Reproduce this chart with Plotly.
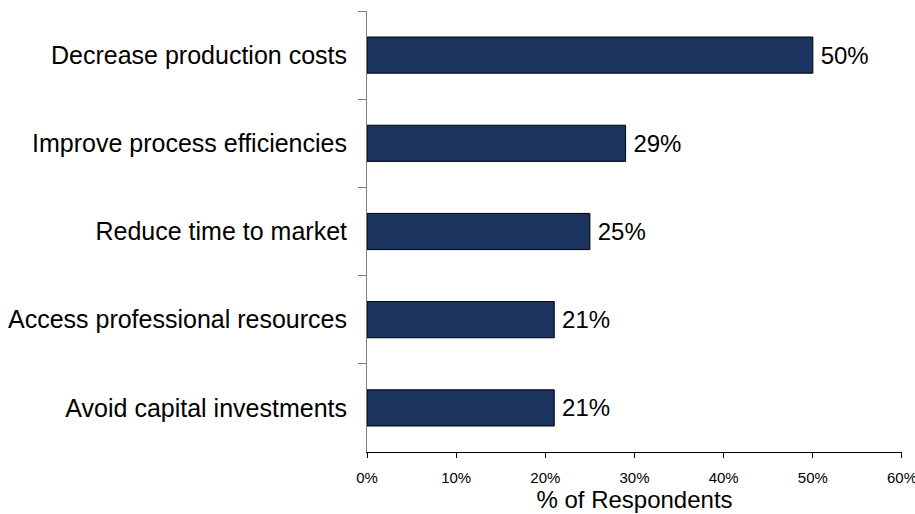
import plotly.graph_objects as go

categories = [
    "Decrease production costs",
    "Improve process efficiencies",
    "Reduce time to market",
    "Access professional resources",
    "Avoid capital investments",
]
values = [50, 29, 25, 21, 21]
x_ticks = [0, 10, 20, 30, 40, 50, 60]

BAR_COLOR = "#1B345F"
FONT = "Liberation Sans, Arial, sans-serif"

fig = go.Figure(
    go.Bar(
        x=values,
        y=categories,
        orientation="h",
        marker=dict(color=BAR_COLOR, line=dict(color="black", width=1)),
        text=[f"\u2009{v}%" for v in values],
        textposition="outside",
        textfont=dict(size=24, color="black", family=FONT),
        cliponaxis=False,
        hoverinfo="skip",
    )
)

fig.update_layout(
    width=915,
    height=514,
    margin=dict(l=367, r=13, t=11, b=62, autoexpand=False),
    plot_bgcolor="white",
    paper_bgcolor="white",
    bargap=0.59,
    showlegend=False,
    font=dict(family=FONT, color="black"),
)

fig.update_xaxes(
    range=[0, 60.001],
    tickvals=x_ticks,
    ticktext=[f"{t}%" for t in x_ticks],
    tickfont=dict(size=15),
    ticks="outside",
    ticklen=5,
    tickcolor="black",
    showline=True,
    linecolor="black",
    linewidth=1,
    showgrid=False,
    zeroline=False,
    automargin=False,
    ticklabeloverflow="allow",
    ticklabelstandoff=7,
    title=dict(text="% of Respondents", font=dict(size=24), standoff=0),
)

fig.update_yaxes(
    autorange="reversed",
    tickson="boundaries",
    ticks="outside",
    ticklen=8,
    tickcolor="#808080",
    tickfont=dict(size=25),
    showline=True,
    linecolor="#808080",
    linewidth=1,
    showgrid=False,
    zeroline=False,
    automargin=False,
    ticklabeloverflow="allow",
    ticklabelstandoff=14,
)

# drop the default 8px body margin so the figure fills the window exactly
fig.write_html(
    "out.html",
    config={"displayModeBar": False},
    post_script="document.body.style.margin = '0';",
)
